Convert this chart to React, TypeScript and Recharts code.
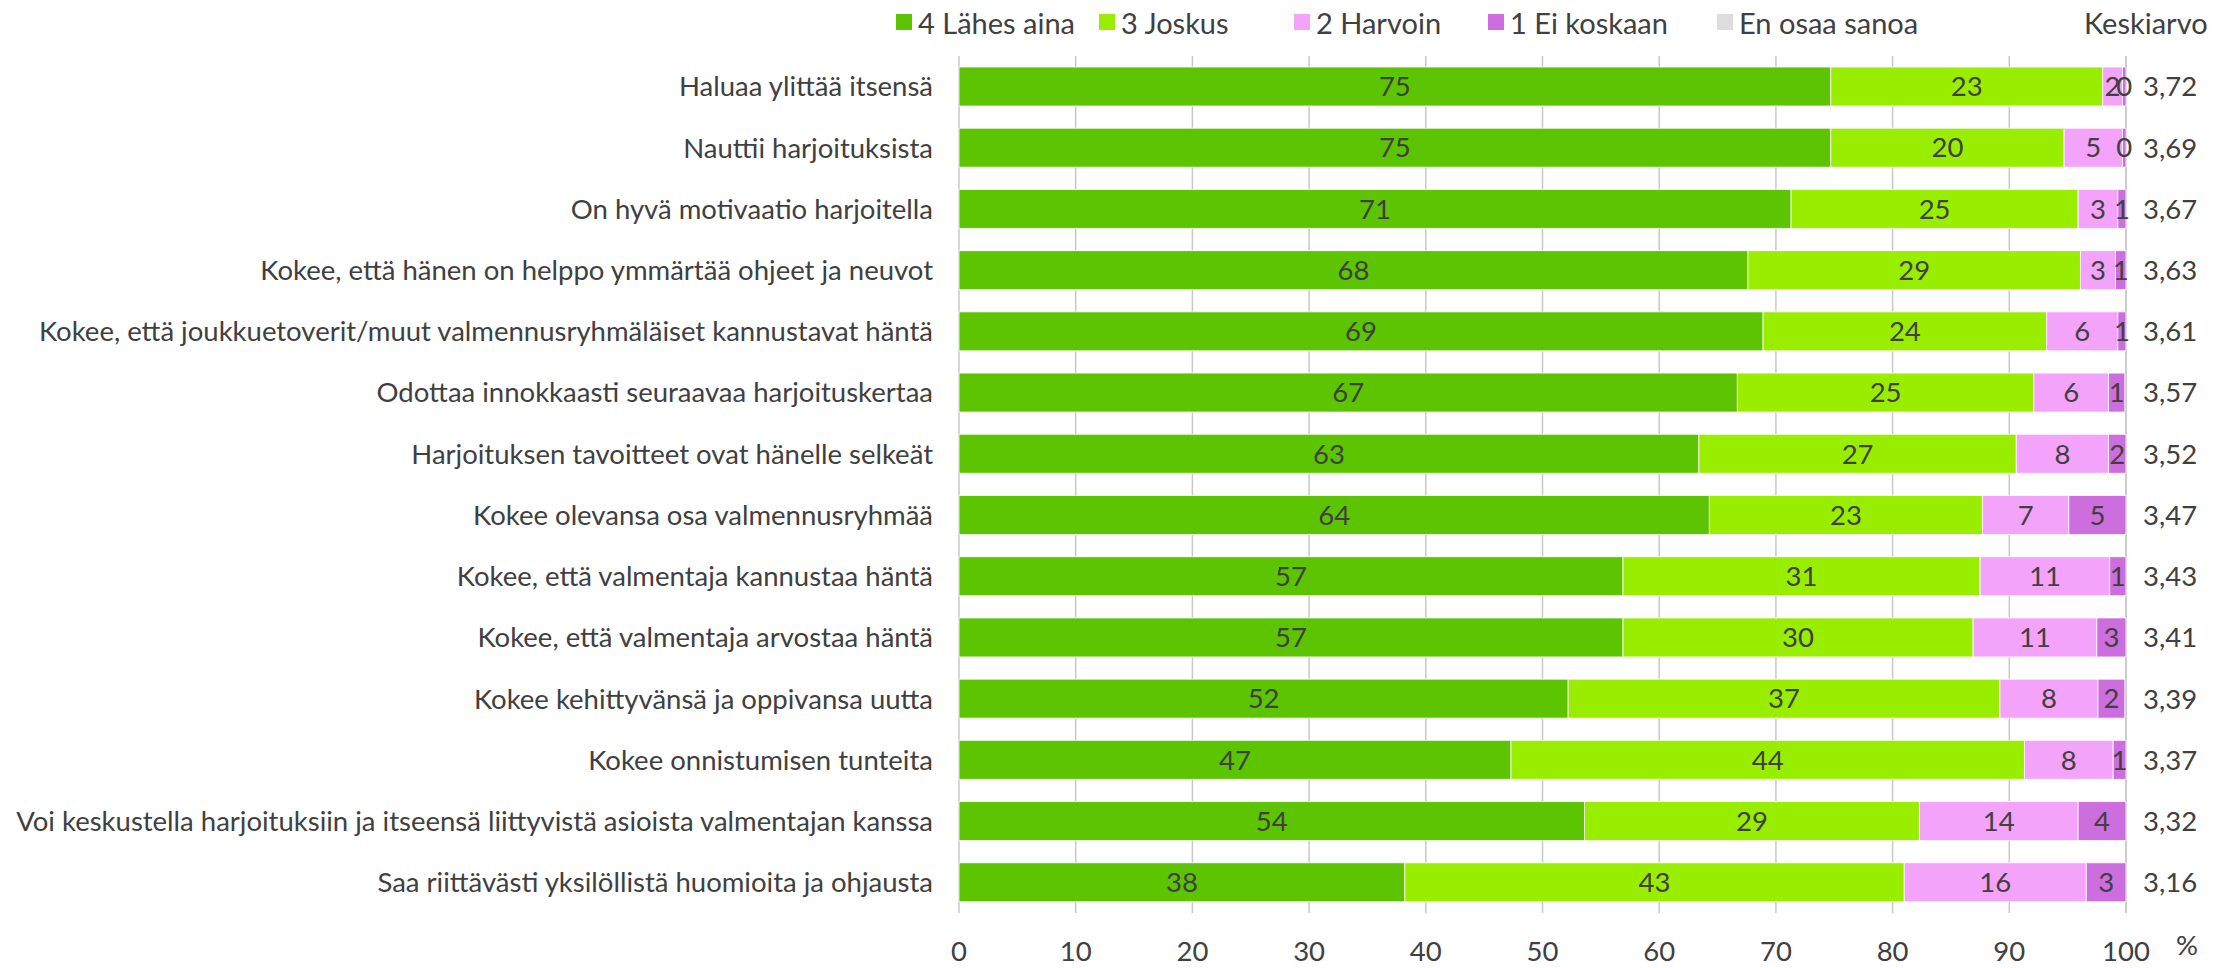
import React from 'react';
import {
  BarChart,
  Bar,
  XAxis,
  YAxis,
  CartesianGrid,
  LabelList,
} from 'recharts';

const categories = [
  'Haluaa ylittää itsensä',
  'Nauttii harjoituksista',
  'On hyvä motivaatio harjoitella',
  'Kokee, että hänen on helppo ymmärtää ohjeet ja neuvot',
  'Kokee, että joukkuetoverit/muut valmennusryhmäläiset kannustavat häntä',
  'Odottaa innokkaasti seuraavaa harjoituskertaa',
  'Harjoituksen tavoitteet ovat hänelle selkeät',
  'Kokee olevansa osa valmennusryhmää',
  'Kokee, että valmentaja kannustaa häntä',
  'Kokee, että valmentaja arvostaa häntä',
  'Kokee kehittyvänsä ja oppivansa uutta',
  'Kokee onnistumisen tunteita',
  'Voi keskustella harjoituksiin ja itseensä liittyvistä asioista valmentajan kanssa',
  'Saa riittävästi yksilöllistä huomioita ja ohjausta',
];

const lahesAina = [74.7, 74.7, 71.3, 67.6, 68.9, 66.7, 63.4, 64.3, 56.9, 56.9, 52.2, 47.3, 53.6, 38.2];
const joskus = [23.3, 20.0, 24.6, 28.5, 24.3, 25.4, 27.2, 23.4, 30.6, 30.0, 37.0, 44.0, 28.7, 42.8];
const harvoin = [1.7, 5.0, 3.4, 3.0, 6.1, 6.4, 7.9, 7.4, 11.1, 10.6, 8.4, 7.6, 13.6, 15.6];
const eiKoskaan = [0.3, 0.3, 0.7, 0.9, 0.7, 1.4, 1.5, 4.9, 1.4, 2.5, 2.3, 1.1, 4.1, 3.4];
const enOsaa = [0, 0, 0, 0, 0, 0, 0, 0, 0, 0, 0, 0, 0, 0];
const keskiarvo = [3.72, 3.69, 3.67, 3.63, 3.61, 3.57, 3.52, 3.47, 3.43, 3.41, 3.39, 3.37, 3.32, 3.16];

const xTicks = [0, 10, 20, 30, 40, 50, 60, 70, 80, 90, 100];

const series = [
  { key: 'lahes', name: '4 Lähes aina', color: '#5CC400', values: lahesAina },
  { key: 'joskus', name: '3 Joskus', color: '#99EE00', values: joskus },
  { key: 'harvoin', name: '2 Harvoin', color: '#F3A3FA', values: harvoin },
  { key: 'ei', name: '1 Ei koskaan', color: '#CD6EDE', values: eiKoskaan },
  { key: 'eos', name: 'En osaa sanoa', color: '#DDDDDD', values: enOsaa },
];

const data = categories.map((name, i) => {
  const row: Record<string, string | number> = { name, mean: keskiarvo[i] };
  series.forEach(s => {
    row[s.key] = s.values[i];
  });
  return row;
});

const FONT = 'Lato, "Open Sans", sans-serif';
const TEXT = '#404040';
const FS = 27.5;

// legend item left positions (px inside chart)
const legendX = [888, 1091, 1286, 1480, 1709];

export default function App() {
  return (
    <div style={{ position: 'relative', width: 2221, height: 960, fontFamily: FONT }}>
      <div style={{ position: 'absolute', left: 0, top: 0, width: 2221, height: 30 }}>
        {series.map((s, i) => (
          <div
            key={s.key}
            style={{
              position: 'absolute',
              left: legendX[i],
              top: 0,
              height: 28,
              display: 'flex',
              alignItems: 'center',
              color: TEXT,
              fontSize: 29,
              whiteSpace: 'nowrap',
            }}
          >
            <span style={{ width: 16, height: 16, background: s.color, marginRight: 6 }} />
            {s.name}
          </div>
        ))}
        <div
          style={{
            position: 'absolute',
            left: 2076,
            top: 0,
            height: 28,
            display: 'flex',
            alignItems: 'center',
            color: TEXT,
            fontSize: 29,
          }}
        >
          Keskiarvo
        </div>
      </div>
      <BarChart
        width={2221}
        height={960}
        data={data}
        layout="vertical"
        barSize={39}
        margin={{ top: 48, right: 33, left: 21, bottom: 0 }}
      >
        <CartesianGrid horizontal={false} stroke="#C8C8C8" strokeWidth={1.5} />
        <XAxis
          type="number"
          domain={[0, 100]}
          ticks={xTicks}
          axisLine={false}
          tickLine={false}
          tickSize={0}
          tickMargin={28}
          height={55}
          tick={{ fill: TEXT, fontSize: FS, fontFamily: FONT }}
          label={(props: any) => {
            const vb = props.viewBox || {};
            return (
              <text
                x={vb.x + vb.width + 61}
                y={vb.y + 42}
                fill={TEXT}
                fontSize={FS}
                fontFamily={FONT}
                textAnchor="middle"
              >
                %
              </text>
            );
          }}
        />
        <YAxis
          type="category"
          dataKey="name"
          width={930}
          axisLine={false}
          tickLine={false}
          tickSize={0}
          tickMargin={26}
          interval={0}
          tick={{ fill: TEXT, fontSize: FS, fontFamily: FONT }}
        />
        <YAxis
          yAxisId="mean"
          orientation="right"
          type="category"
          dataKey="mean"
          width={70}
          axisLine={false}
          tickLine={false}
          tickSize={0}
          tickMargin={17}
          interval={0}
          tick={{ fill: TEXT, fontSize: FS, fontFamily: FONT, textAnchor: 'start' }}
          tickFormatter={(v: number) => Number(v).toFixed(2).replace('.', ',')}
        />
        {series.map(s => (
          <Bar
            key={s.key}
            dataKey={s.key}
            name={s.name}
            stackId="a"
            fill={s.color}
            stroke="#ffffff"
            strokeWidth={0.8}
            isAnimationActive={false}
          >
            {s.key !== 'eos' && (
              <LabelList
                dataKey={s.key}
                position="center"
                fill={TEXT}
                fontSize={FS}
                fontFamily={FONT}
                formatter={(v: any) => Math.round(Number(v))}
              />
            )}
          </Bar>
        ))}
      </BarChart>
    </div>
  );
}
